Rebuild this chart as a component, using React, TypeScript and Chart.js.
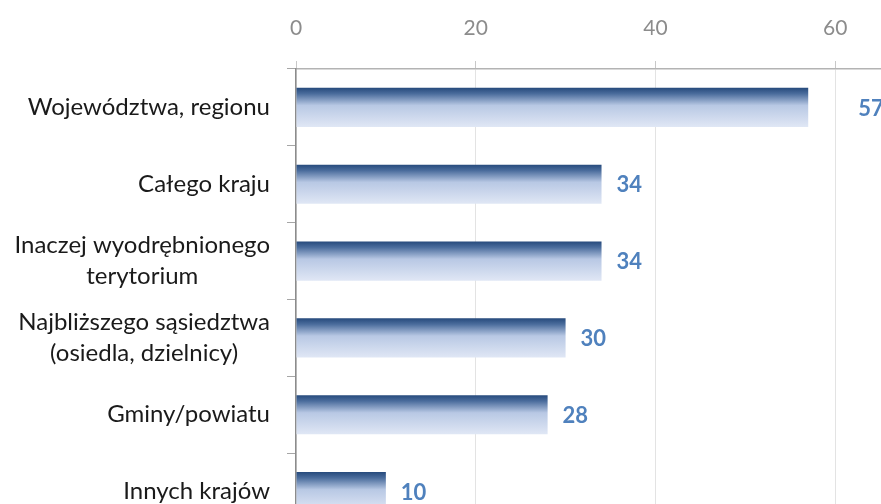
import React, { useEffect, useRef } from "react";
import { Chart, registerables } from "chart.js";

Chart.register(...registerables);

const categories: string[][] = [
  ["Województwa, regionu"],
  ["Całego kraju"],
  ["Inaczej wyodrębnionego", "terytorium"],
  ["Najbliższego sąsiedztwa", "(osiedla, dzielnicy)"],
  ["Gminy/powiatu"],
  ["Innych krajów"],
];
const values: number[] = [57, 34, 34, 30, 28, 10];
const xTicks: number[] = [0, 20, 40, 60];

const FONT = "Lato, 'Open Sans', sans-serif";
const BAR_PCT = 0.51;

const labelsPlugin = {
  id: "customLabels",
  afterDraw(chart: any) {
    const ctx = chart.ctx;
    const area = chart.chartArea;
    const yScale = chart.scales.y;
    const meta = chart.getDatasetMeta(0);
    ctx.save();
    ctx.font = `24px ${FONT}`;
    ctx.fillStyle = "#1a1a1a";
    ctx.textBaseline = "middle";
    ctx.textAlign = "center";
    const rightEdge = area.left - 26;
    const lineH = 31;
    categories.forEach((lines, i) => {
      const cy = yScale.getPixelForValue(i);
      const maxW = Math.max(...lines.map((l) => ctx.measureText(l).width));
      const cx = rightEdge - maxW / 2;
      lines.forEach((l, j) => {
        const y = cy + (j - (lines.length - 1) / 2) * lineH;
        ctx.fillText(l, cx, y);
      });
    });
    ctx.font = `bold 22px ${FONT}`;
    ctx.fillStyle = "#4f81bd";
    ctx.textAlign = "left";
    meta.data.forEach((el: any, i: number) => {
      const shift = i === 0 ? 50 : 15;
      ctx.fillText(String(values[i]), el.x + shift, el.y + 1);
    });
    ctx.restore();
  },
};

function barFill(c: any) {
  const chart = c.chart;
  const ys = chart.scales && chart.scales.y;
  if (!ys || c.dataIndex === undefined || !chart.ctx) return "#8aa4cf";
  const cy = ys.getPixelForValue(c.dataIndex);
  const band = ys.height / categories.length;
  const h = band * BAR_PCT;
  if (!isFinite(cy) || !isFinite(h) || h <= 0) return "#8aa4cf";
  const g = chart.ctx.createLinearGradient(0, cy - h / 2, 0, cy + h / 2);
  g.addColorStop(0, "#264a7c");
  g.addColorStop(0.15, "#4a6c9c");
  g.addColorStop(0.45, "#b8c8e4");
  g.addColorStop(1, "#e0e7f5");
  return g;
}

export default function App() {
  const ref = useRef<HTMLCanvasElement>(null);
  useEffect(() => {
    if (!ref.current) return;
    const chart = new Chart(ref.current, {
      type: "bar",
      data: {
        labels: categories.map((c) => c.join(" ")),
        datasets: [
          {
            data: values,
            backgroundColor: barFill,
            borderWidth: 0,
            barPercentage: BAR_PCT,
            categoryPercentage: 1,
          },
        ],
      },
      options: {
        indexAxis: "y",
        responsive: false,
        animation: false,
        layout: { padding: { left: 0, right: 0, top: 0, bottom: 0 } },
        plugins: {
          legend: { display: false },
          tooltip: { enabled: false },
        },
        scales: {
          x: {
            position: "top",
            min: 0,
            max: 65.1,
            afterBuildTicks: (s: any) => {
              s.ticks = xTicks.map((v) => ({ value: v }));
            },
            afterFit: (s: any) => {
              s.height = 69;
            },
            ticks: {
              font: { family: FONT, size: 21 },
              color: "#8c8c8c",
              padding: 20,
            },
            grid: {
              color: "#e3e3e3",
              tickColor: "#c8c8c8",
              tickLength: 8,
            },
            border: { color: "#b3b3b3", width: 1.5 },
          },
          y: {
            afterFit: (s: any) => {
              s.width = 296;
            },
            ticks: { display: false },
            grid: {
              drawOnChartArea: false,
              tickLength: 9,
              color: "#a6a6a6",
              offset: true,
            },
            border: { color: "#8c8c8c", width: 1.5 },
          },
        },
      },
      plugins: [labelsPlugin],
    });
    return () => chart.destroy();
  }, []);
  return (
    <div
      style={{
        position: "fixed",
        left: 0,
        top: 0,
        width: 881,
        height: 504,
        overflow: "hidden",
        background: "#fff",
      }}
    >
      <canvas ref={ref} width={881} height={530} style={{ display: "block" }} />
    </div>
  );
}
